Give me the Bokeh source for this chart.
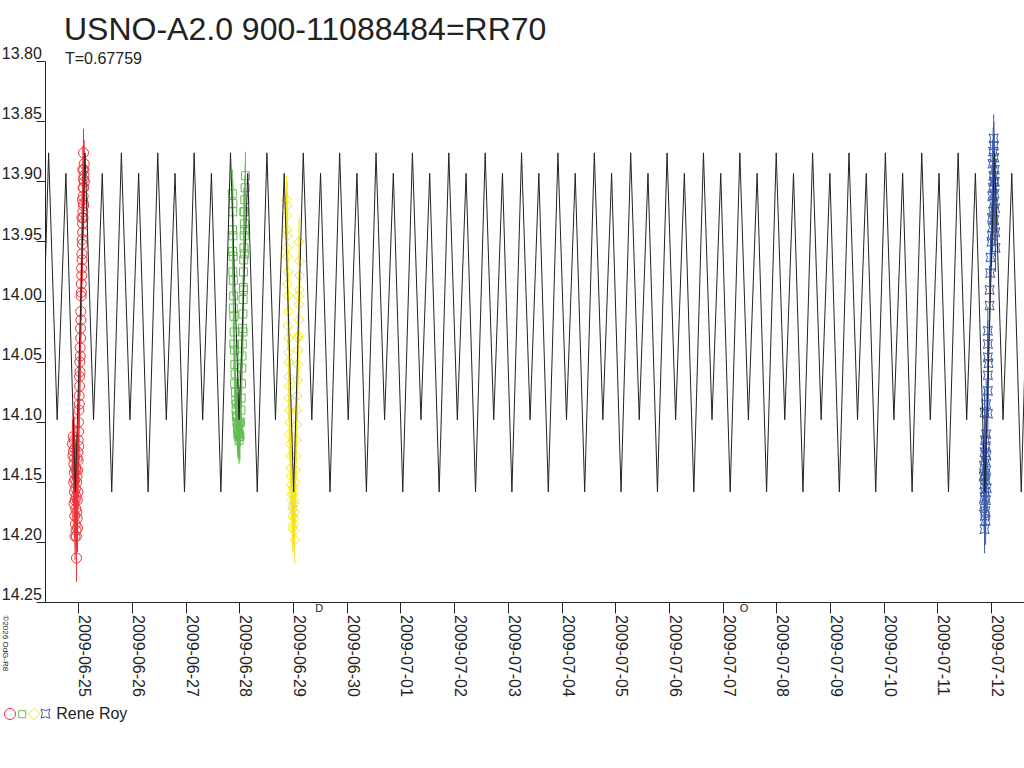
import numpy as np
from bokeh.plotting import figure
from bokeh.models import (Range1d, FixedTicker, Label, CustomJSTickFormatter,
                          ColumnDataSource, BoxAnnotation)
from bokeh.layouts import column
from bokeh.embed import file_html
from bokeh.resources import INLINE
from bokeh.core.properties import value

FONT = "Liberation Sans"
INK = "#222222"

# ---------------- texts ----------------
title_text = "USNO-A2.0 900-11088484=RR70"
period_text = "T=0.67759"
observer = "Rene Roy"
credit = "\u00a92026 OdG-R8"

# ---------------- axes ----------------
# x in days after 2009-06-25 00:00 UT
date_ticks = list(range(18))
date_labels = ["2009-06-25", "2009-06-26", "2009-06-27", "2009-06-28", "2009-06-29",
               "2009-06-30", "2009-07-01", "2009-07-02", "2009-07-03", "2009-07-04",
               "2009-07-05", "2009-07-06", "2009-07-07", "2009-07-08", "2009-07-09",
               "2009-07-10", "2009-07-11", "2009-07-12"]
mag_ticks = [13.80, 13.85, 13.90, 13.95, 14.00, 14.05, 14.10, 14.15, 14.20, 14.25]
mag_labels = ["13.80", "13.85", "13.90", "13.95", "14.00", "14.05", "14.10", "14.15", "14.20", "14.25"]

# moon phases (first quarter, full moon)
moon_t = [4.478, 12.390]
moon_sym = ["D", "O"]

# ---------------- model light curve (ephemeris) ----------------
period = 0.67759
epoch = -0.064                      # deep minimum, days after 2009-06-25
model_phase = [0.0, 0.265, 0.50, 0.74]
model_mag = [14.158, 13.876, 14.098, 13.893]

# ---------------- observations (Rene Roy) ----------------
err = 0.020

red_t = [
    -0.118, -0.110, -0.104, -0.098, -0.092, -0.086, -0.080, -0.075, -0.095, -0.090,
    -0.085, -0.080, -0.076, -0.072, -0.068, -0.064, -0.060, -0.056, -0.052, -0.048,
    -0.044, -0.043, -0.040, -0.036, -0.032, -0.028, -0.024, -0.020, -0.016, -0.012,
    -0.030, -0.050, -0.070, -0.058, -0.010, -0.006, -0.002, 0.002, 0.006, 0.010,
    0.013, 0.016, 0.019, 0.022, 0.025, 0.028, 0.031, 0.034, 0.037, 0.040,
    0.043, 0.046, 0.049, 0.052, 0.055, 0.058, 0.061, 0.064, 0.067, 0.070,
    0.073, 0.076, 0.079, 0.082, 0.085, 0.088, 0.091, 0.094, 0.097, 0.100,
    0.088, 0.104, 0.080, 0.070, 0.060, 0.090, 0.075, -0.015, 0.000, -0.030,
]
red_m = [
    14.118, 14.128, 14.112, 14.124, 14.135, 14.115, 14.130, 14.122, 14.150, 14.168,
    14.142, 14.158, 14.178, 14.148, 14.165, 14.185, 14.155, 14.172, 14.140, 14.162,
    14.195, 14.213, 14.150, 14.175, 14.145, 14.165, 14.188, 14.140, 14.158, 14.132,
    14.180, 14.190, 14.195, 14.138, 14.115, 14.100, 14.108, 14.090, 14.078, 14.085,
    14.062, 14.070, 14.050, 14.058, 14.038, 14.045, 14.022, 14.030, 14.008, 14.015,
    13.995, 13.985, 13.992, 13.972, 13.978, 13.960, 13.965, 13.948, 13.952, 13.935,
    13.942, 13.925, 13.930, 13.912, 13.918, 13.898, 13.905, 13.890, 13.895, 13.885,
    13.876, 13.900, 13.905, 13.915, 13.930, 13.920, 13.890, 14.125, 14.120, 14.130,
]

green_t = [
    2.860, 2.866, 2.870, 2.862, 2.872, 2.866, 2.876, 2.870, 2.880, 2.884,
    2.878, 2.890, 2.894, 2.888, 2.900, 2.906, 2.912, 2.904, 2.918, 2.924,
    2.930, 2.938, 2.946, 2.954, 2.962, 2.970, 2.978, 2.986, 2.994, 3.002,
    2.950, 2.965, 2.982, 2.998, 2.940, 3.010, 3.018, 3.024, 3.030, 3.036,
    3.040, 3.046, 3.050, 3.056, 3.060, 3.064, 3.068, 3.072, 3.076, 3.080,
    3.084, 3.088, 3.092, 3.098, 3.104, 3.082, 3.070, 3.058, 3.090, 3.074,
]
green_m = [
    13.910, 13.925, 13.918, 13.940, 13.945, 13.958, 13.962, 13.975, 13.982, 13.995,
    14.005, 14.012, 14.025, 14.035, 14.040, 14.052, 14.060, 14.068, 14.075, 14.082,
    14.090, 14.095, 14.100, 14.105, 14.110, 14.108, 14.112, 14.115, 14.110, 14.112,
    14.095, 14.100, 14.102, 14.100, 14.085, 14.100, 14.090, 14.080, 14.068, 14.055,
    14.045, 14.035, 14.022, 14.010, 13.998, 13.988, 13.975, 13.965, 13.955, 13.945,
    13.935, 13.925, 13.915, 13.905, 13.895, 13.960, 13.990, 14.025, 13.940, 13.925,
]

yellow_t = [
    3.870, 3.876, 3.882, 3.872, 3.886, 3.878, 3.890, 3.896, 3.886, 3.900,
    3.906, 3.894, 3.910, 3.904, 3.914, 3.908, 3.920, 3.914, 3.926, 3.932,
    3.920, 3.938, 3.944, 3.950, 3.956, 3.962, 3.968, 3.974, 3.980, 3.986,
    3.992, 3.998, 4.004, 4.010, 4.016, 4.022, 4.000, 3.990, 4.028, 4.034,
    3.985, 4.008, 4.040, 4.046, 4.052, 4.058, 4.064, 4.070, 4.076, 4.082,
    4.088, 4.094, 4.098, 4.102, 4.106, 4.110, 4.114, 4.100, 4.090, 4.080,
]
yellow_m = [
    13.915, 13.928, 13.920, 13.940, 13.945, 13.955, 13.962, 13.975, 13.985, 13.995,
    14.008, 14.020, 14.030, 14.042, 14.050, 14.062, 14.070, 14.080, 14.090, 14.100,
    14.110, 14.118, 14.128, 14.138, 14.145, 14.152, 14.160, 14.165, 14.170, 14.178,
    14.172, 14.185, 14.168, 14.190, 14.175, 14.198, 14.160, 14.155, 14.165, 14.150,
    14.188, 14.180, 14.140, 14.128, 14.115, 14.102, 14.090, 14.078, 14.065, 14.052,
    14.040, 14.028, 14.015, 14.002, 13.990, 13.978, 13.966, 13.950, 13.995, 14.030,
]

blue_t = [
    17.040, 17.030, 17.050, 17.020, 17.060, 17.035, 17.045, 17.025, 17.055, 17.015,
    17.040, 17.065, 17.030, 17.010, 17.050, 17.020, 17.070, 17.005, 17.075, 17.000,
    17.060, 17.045, 16.981, 16.975, 16.963, 16.963, 16.932, 16.932, 16.932, 16.944,
    16.932, 16.932, 16.900, 16.870, 16.932, 16.880, 16.895, 16.870, 16.905, 16.885,
    16.860, 16.900, 16.875, 16.890, 16.865, 16.910, 16.880, 16.870, 16.895, 16.860,
    16.885, 16.875, 16.890, 16.870, 16.900, 16.855,
]
blue_m = [
    13.864, 13.875, 13.880, 13.885, 13.890, 13.895, 13.900, 13.905, 13.910, 13.912,
    13.918, 13.922, 13.925, 13.930, 13.932, 13.938, 13.942, 13.945, 13.955, 13.950,
    13.900, 13.870, 13.963, 13.976, 13.990, 14.003, 14.024, 14.035, 14.046, 14.051,
    14.061, 14.074, 14.085, 14.092, 14.093, 14.115, 14.120, 14.125, 14.128, 14.132,
    14.136, 14.140, 14.144, 14.148, 14.152, 14.155, 14.158, 14.162, 14.165, 14.170,
    14.174, 14.178, 14.182, 14.189, 14.110, 14.145,
]

RED, GREEN, YELLOW, BLUE = "#EE3338", "#66BB55", "#F2E41C", "#3C5AAA"

# ---------------- layout: the plot window inside a full-canvas frame ----------------
W, H = 1024, 700
WIN_L, WIN_R, WIN_T, WIN_B = 45, 1024, 61, 602       # pixels of the plot window
x_lo, x_hi = -0.620, 17.614                            # days shown in the window
y_top, y_bot = 13.80, 14.25                            # magnitudes shown in the window
kx = (WIN_R - WIN_L) / (x_hi - x_lo)
ky = (WIN_B - WIN_T) / (y_bot - y_top)
xr = Range1d(x_lo - WIN_L / kx, x_hi + (W - WIN_R) / kx)
yr = Range1d(y_bot + (H - WIN_B) / ky, y_top - WIN_T / ky)

p = figure(width=W, height=H, output_backend="svg", toolbar_location=None,
           x_range=xr, y_range=yr, min_border=0,
           background_fill_color="white", border_fill_color="white")
p.outline_line_color = None
p.grid.visible = False

xa, ya = p.xaxis[0], p.yaxis[0]
xa.fixed_location = y_bot
xa.bounds = (x_lo, x_hi)
ya.fixed_location = x_lo
ya.bounds = (y_top, y_bot)
xa.ticker = FixedTicker(ticks=date_ticks)
ya.ticker = FixedTicker(ticks=mag_ticks)
for ax in (xa, ya):
    ax.formatter = CustomJSTickFormatter(code="return ''")
    ax.major_label_text_font_size = "0px"
    ax.minor_tick_line_color = None
    ax.major_tick_in = 0
    ax.axis_line_color = INK
    ax.major_tick_line_color = INK
xa.major_tick_out = 11
ya.major_tick_out = 9


def series(t, m, color, marker, size, angle=0.0):
    src = ColumnDataSource(dict(t=t, m=m, lo=[v - err for v in m], hi=[v + err for v in m]))
    p.segment(x0="t", y0="lo", x1="t", y1="hi", source=src, line_color=color, line_width=1)
    p.scatter(x="t", y="m", source=src, marker=marker, size=size, angle=angle,
              fill_color=None, line_color=color, line_width=1)


series(red_t, red_m, RED, "circle", 10)
series(green_t, green_m, GREEN, "square", 8)
series(yellow_t, yellow_m, YELLOW, "square", 7, angle=np.pi / 4)
series(blue_t, blue_m, BLUE, "square_pin", 9)

model_t, model_m = [], []
for k in range(-2, 27):
    for ph, mg in zip(model_phase, model_mag):
        model_t.append(epoch + (k + ph) * period)
        model_m.append(mg)
p.line(model_t, model_m, line_color=INK, line_width=1)

# blank out everything left of the plot window (curve overshoot)
p.add_layout(BoxAnnotation(right=x_lo, fill_color="white", fill_alpha=1.0,
                           line_color=None, level="glyph"))

# ---------------- texts (anchored at the middle of the text box) ----------------
MID = 0.3465   # baseline -> middle of the text box, in em


def mid(size):
    return MID * size


p.add_layout(Label(x=63.5, y=H - (39.3 - mid(32)), x_units="screen", y_units="screen",
                   text=title_text, text_font=FONT, text_font_size="32px", text_color=INK,
                   text_baseline="middle"))
p.add_layout(Label(x=64.5, y=H - (64 - mid(16)), x_units="screen", y_units="screen",
                   text=period_text, text_font=FONT, text_font_size="16px", text_color=INK,
                   text_baseline="middle"))

for v, s in zip(mag_ticks, mag_labels):
    p.add_layout(Label(x=x_lo, y=v, x_offset=-3.6, y_offset=2.7 + mid(16), text=s,
                       text_font=FONT, text_font_size="16px", text_color=INK,
                       text_align="right", text_baseline="middle"))

for t, s in zip(date_ticks, date_labels):
    p.add_layout(Label(x=t, y=y_bot, x_offset=1.0 + mid(16), y_offset=-12.5, text=s,
                       angle=-np.pi / 2, text_font=FONT, text_font_size="16px", text_color=INK,
                       text_align="left", text_baseline="middle"))

for t, s in zip(moon_t, moon_sym):
    p.add_layout(Label(x=t, y=y_bot, y_offset=-(9 - mid(11)), text=s,
                       text_font=FONT, text_font_size="11px", text_color=INK,
                       text_align="center", text_baseline="middle"))

p.add_layout(Label(x=2.5 + mid(8), y=H - 615, x_units="screen", y_units="screen", text=credit,
                   angle=-np.pi / 2, text_font=FONT, text_font_size="8px", text_color=INK,
                   text_align="left", text_baseline="middle"))

# ---------------- legend strip ----------------
q = figure(width=W, height=40, output_backend="svg", toolbar_location=None,
           x_range=Range1d(0, W), y_range=Range1d(40, 0), min_border=0,
           background_fill_color="white", border_fill_color="white")
q.axis.visible = False
q.grid.visible = False
q.outline_line_color = None
q.scatter(x=[9.5], y=[13.5], marker="circle", size=11, fill_color=None, line_color=RED)
q.scatter(x=[21.7], y=[13.7], marker="square", size=7, fill_color=None, line_color=GREEN)
q.scatter(x=[33.5], y=[13.5], marker="square", size=8, angle=np.pi / 4, fill_color=None,
          line_color=YELLOW)
q.scatter(x=[45], y=[13.2], marker="square_pin", size=9, fill_color=None, line_color=BLUE)
q.text(x=[55.7], y=[18.5 - mid(16)], text=[observer], text_font=value(FONT),
       text_font_size=value("16px"), text_color=INK, text_baseline="middle")

layout = column(p, q, spacing=0)
open("out.html", "w").write(file_html(layout, INLINE))
